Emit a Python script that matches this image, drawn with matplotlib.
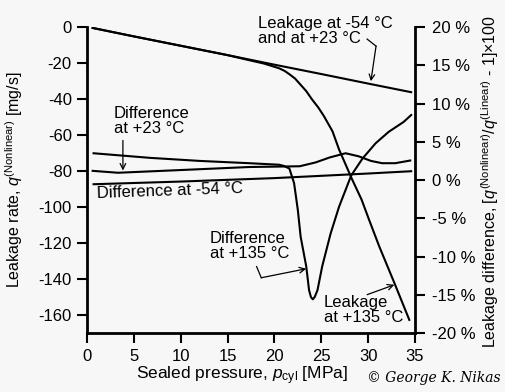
import matplotlib
matplotlib.use('Agg')
import matplotlib.pyplot as plt

plt.rcParams['font.family'] = ['Liberation Sans', 'DejaVu Sans']
plt.rcParams['mathtext.fontset'] = 'custom'
plt.rcParams['mathtext.rm'] = 'Liberation Sans'
plt.rcParams['mathtext.it'] = 'Liberation Sans:italic'
plt.rcParams['axes.unicode_minus'] = False

# leakage rate [mg/s] (left axis)
p_leak_cold = [0.6, 5, 10, 15, 20, 25, 30, 34.6]
leak_cold = [-0.5, -5.2, -10.4, -15.6, -20.9, -26.1, -31.4, -36.2]

p_leak_hot = [0.6, 5, 10, 15, 17.3, 18.9, 20.5, 21.1, 21.6, 22.2, 22.7, 23.4, 24.0, 24.7,
              25.3, 26.2, 26.9, 28.3, 29.3, 30.1, 31.2, 32.8, 34.4]
leak_hot = [-0.5, -5.2, -10.4, -15.6, -18.4, -20.3, -22.9, -24.4, -26.2, -28.6, -31.5,
            -35.6, -40.1, -44.8, -49.6, -57.9, -68.0, -84.7, -95.8, -107.0, -122.0,
            -142.1, -162.7]

# leakage difference [%] (right axis)
p_diff_cold = [0.7, 10, 20, 30, 34.6]
diff_cold = [-0.55, -0.2, 0.25, 0.85, 1.15]

p_diff_mid = [0.6, 3.3, 9.9, 17.3, 22.7, 24.4, 25.9, 27.6, 29.0, 30.3, 31.5, 32.9, 34.5]
diff_mid = [1.2, 0.95, 1.3, 1.7, 1.8, 2.3, 2.95, 3.5, 3.1, 2.5, 2.2, 2.2, 2.55]

p_diff_hot = [0.7, 6.7, 12.0, 17.3, 20.5, 21.0, 21.6, 22.1, 22.5, 22.8, 23.4, 23.7, 23.9,
              24.1, 24.3, 24.6, 25.1, 26.0, 26.9, 28.2, 29.4, 30.8, 32.2, 33.8, 34.6]
diff_hot = [3.5, 2.9, 2.5, 2.2, 2.0, 1.85, 1.5, -0.4, -3.9, -7.4, -11.3, -14.4, -15.3,
            -15.6, -15.3, -14.4, -11.3, -7.0, -3.5, 0.6, 2.8, 4.8, 6.3, 7.6, 8.5]

left_ticks = [0, -20, -40, -60, -80, -100, -120, -140, -160]
right_ticks = [20, 15, 10, 5, 0, -5, -10, -15, -20]
x_ticks = [0, 5, 10, 15, 20, 25, 30, 35]

bg = '#f7f7f7'
fig = plt.figure(figsize=(5.06, 3.92), dpi=100, facecolor=bg)
ax = fig.add_axes([0.172, 0.1505, 0.648, 0.7805])
ax.set_facecolor(bg)
ax2 = ax.twinx()

lw = 1.5
ax.plot(p_leak_cold, leak_cold, color='black', lw=lw)
ax.plot(p_leak_hot, leak_hot, color='black', lw=lw)
ax2.plot(p_diff_cold, diff_cold, color='black', lw=lw)
ax2.plot(p_diff_mid, diff_mid, color='black', lw=lw)
ax2.plot(p_diff_hot, diff_hot, color='black', lw=lw)

ax.set_xlim(0, 35)
ax.set_ylim(-170, 0)
ax2.set_ylim(-20, 20)
ax.set_xticks(x_ticks)
ax.set_yticks(left_ticks)
ax2.set_yticks(right_ticks)
ax2.set_yticklabels([f'{t} %' for t in right_ticks])

for a in (ax, ax2):
    a.spines['top'].set_visible(False)
    for s in a.spines.values():
        s.set_linewidth(2)
    a.tick_params(direction='out', length=7.5, width=1.5, labelsize=12, pad=3.5)
ax2.tick_params(axis='y', pad=5)
ax.tick_params(axis='x', pad=4)
ax.spines['right'].set_visible(False)
ax2.spines['left'].set_visible(False)
ax2.spines['bottom'].set_visible(False)

ax.set_xlabel('Sealed pressure, $p_{\\mathrm{cyl}}$ [MPa]', fontsize=12.5)
ax.xaxis.set_label_coords(0.473, -0.1405)
ax.xaxis.label.set_verticalalignment('center')
ax.set_ylabel('Leakage rate, $q^{(\\mathrm{Nonlinear})}$ [mg/s]', fontsize=11.5)
ax.yaxis.set_label_coords(-0.2226, 0.5)
ax.yaxis.label.set_verticalalignment('center')
ax2.set_ylabel('Leakage difference, [$q^{(\\mathrm{Nonlinear})}/q^{(\\mathrm{Linear})}$ - 1]×100',
               fontsize=11.5)
ax2.yaxis.set_label_coords(1.229, 0.495)
ax2.yaxis.label.set_verticalalignment('center')

fs = 12
arr = dict(arrowstyle='->', color='black', lw=0.9, shrinkA=0, shrinkB=0)

ax.text(18.2, -2.3, 'Leakage at -54 °C\nand at +23 °C', fontsize=fs, va='center',
        linespacing=1.0)
ax.plot([29.9, 30.85], [-6.7, -10.6], color='black', lw=0.9)
ax.annotate('', xy=(30.3, -30.1), xytext=(30.85, -10.6), arrowprops=arr)

ax.text(2.87, -52.4, 'Difference\nat +23 °C', fontsize=fs, va='center', linespacing=1.0)
ax.annotate('', xy=(3.83, -79.7), xytext=(3.83, -63), arrowprops=arr)

ax.text(1.06, -90.8, 'Difference at -54 °C', fontsize=fs, va='center', rotation=2)

ax.text(13.1, -121.7, 'Difference\nat +135 °C', fontsize=fs, va='center', linespacing=1.0)
ax.plot([18.1, 18.6], [-133.1, -139.3], color='black', lw=0.9)
ax.annotate('', xy=(23.4, -134.3), xytext=(18.6, -139.3), arrowprops=arr)

ax.text(25.3, -157.1, 'Leakage\nat +135 °C', fontsize=fs, va='center', linespacing=1.0)
ax.annotate('', xy=(32.8, -143.2), xytext=(29.9, -148.7), arrowprops=arr)

fig.text(0.99, 0.036, '© George K. Nikas', fontsize=10, ha='right', va='center',
         family='DejaVu Serif', style='italic')

fig.savefig('out.png', dpi=100, facecolor=bg)
